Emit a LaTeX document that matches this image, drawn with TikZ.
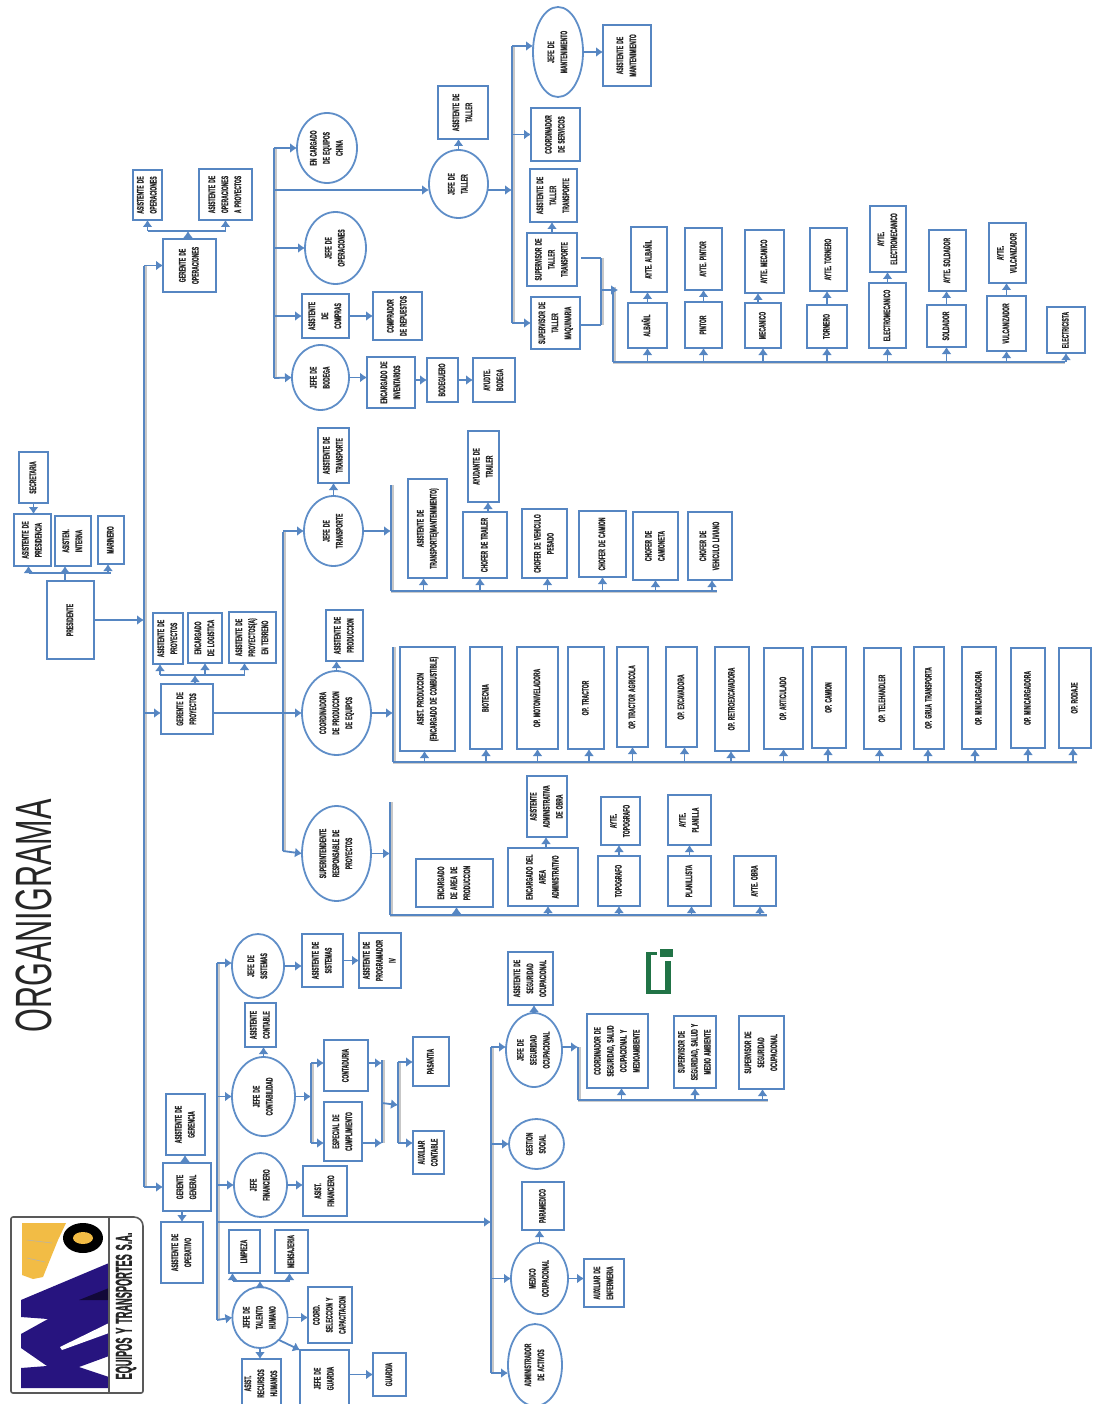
\documentclass[tikz,border=0pt]{standalone}
\usepackage{fontspec}
\usepackage{graphicx}
\setmainfont[BoldFeatures={FakeBold=1.6,WordSpace=1.5}]{Liberation Sans}
\usetikzlibrary{arrows.meta,shapes.geometric}
\definecolor{lc}{HTML}{5686C2}
\definecolor{ec}{HTML}{5F8EC8}
\definecolor{tc}{HTML}{262626}
\definecolor{grn}{HTML}{217346}
\definecolor{indg}{HTML}{27147F}
\definecolor{ylw}{HTML}{F2BC45}
\tikzset{
 boxn/.style={rectangle,draw=lc,line width=2pt,fill=white,inner sep=0pt,outer sep=0pt,text=tc,font=\fontsize{9.5}{13}\selectfont\bfseries},
 elln/.style={ellipse,draw=ec,line width=1.8pt,fill=white,inner sep=0pt,outer sep=0pt,text=tc,font=\fontsize{9.5}{13}\selectfont\bfseries},
 arr/.style={draw=lc,line width=1.8pt,-{Latex[length=7pt,width=10pt]}},
 lnk/.style={draw=lc,line width=1.8pt},
 hbus/.style={draw=lc,line width=2pt,preaction={draw=black!20,line width=1.5pt,transform canvas={yshift=-1.4pt}}},
 vbus/.style={draw=lc,line width=2.8pt,preaction={draw=black!22,line width=2.2pt,transform canvas={xshift=1.8pt}}}
}
\newcommand{\rtxt}[1]{\rotatebox{90}{\scalebox{.53}[1]{\begin{tabular}{@{}c@{}}#1\end{tabular}}}}
\newcommand{\bx}[6]{\node[boxn,minimum width={(#4-#2)*1pt},minimum height={(#5-#3)*1pt}] (#1) at ({(#2+#4)/2},{(#3+#5)/2}) {\rtxt{#6}};}
\newcommand{\el}[6]{\node[elln,minimum width={(#4-#2)*1pt},minimum height={(#5-#3)*1pt}] (#1) at ({(#2+#4)/2},{(#3+#5)/2}) {\rtxt{#6}};}
\begin{document}
\begin{tikzpicture}[x=1pt,y=-1pt]
\clip (0,0) rectangle (1094,1404);
\fill[white] (0,0) rectangle (1094,1404);

% title
\node[rotate=90,inner sep=0pt,text=black!85] (title) at (33.5,916) {\scalebox{.6}[1]{\fontsize{51}{51}\selectfont ORGANIGRAMA}};

% logo
\fill[white] (11,1217) rectangle (143,1393);
\fill[ylw] (22,1223) -- (66,1223) -- (58,1240) -- (43,1277) -- (33,1279) -- (22,1275) -- cycle;
\draw[black!30,line width=.5pt] (27,1240) -- (52,1243) (27,1258) -- (45,1262);
\fill[black] (83,1238) ellipse [x radius=20,y radius=15];
\fill[ylw] (83,1238) ellipse [x radius=10,y radius=6];
\fill[indg] (21,1388) -- (109,1388) -- (109,1377) -- (79,1367) -- (109,1356) -- (109,1263) -- (21,1300) -- (21,1317) -- (48,1319) -- (21,1334) -- (21,1348) -- (47,1366) -- (21,1368) -- cycle;
\fill[white] (60,1347) -- (109,1323) -- (109,1333) -- (62,1350) -- cycle;
\fill[black!55!indg] (79,1300) -- (109,1288) -- (109,1300) -- cycle;
\draw[black!65,line width=1.6pt,rounded corners=2pt] (11,1217) -- (132,1217) [rounded corners=9pt] -- (143,1217) [rounded corners=2pt] -- (143,1393) -- (11,1393) -- cycle;
\draw[black!65,line width=1.2pt] (109,1217) -- (109,1393);
\node[rotate=90,inner sep=0pt,text=black!85] (logotxt) at (126,1306) {\scalebox{.4}[1]{\fontsize{23}{23}\selectfont\bfseries EQUIPOS Y TRANSPORTES S.A.}};

% main buses
\coordinate (m1) at (144,266);
\coordinate (m2) at (144,1187);
\coordinate (p1) at (283,532);
\coordinate (p2) at (283,851);
\coordinate (g1) at (217,963);
\coordinate (g2) at (217,1320);
\coordinate (s1) at (491,1047);
\coordinate (s2) at (491,1373);
\coordinate (o1) at (274,148);
\coordinate (o2) at (274,378);
\coordinate (t1) at (512,46);
\coordinate (t2) at (512,323);
\draw[vbus] (m1) -- (m2);
\draw[vbus] (p1) -- (p2);
\draw[vbus] (g1) -- (g2);
\draw[vbus] (s1) -- (s2);
\draw[vbus] (o1) -- (o2);
\draw[vbus] (t1) -- (t2);

% presidency
\bx{secr}{19}{452}{48}{503}{SECRETARIA}
\bx{apres}{14}{514}{51}{566}{ASISTENTE DE\\PRESIDENCIA}
\bx{ainter}{55}{516}{91}{566}{ASISTEN.\\INTERNA}
\bx{mari}{98}{516}{124}{564}{MARINERO}
\bx{pres}{47}{581}{94}{659}{PRESIDENTE}
\coordinate (pb) at (65,573);
\draw[lnk] ([xshift=-4pt]apres.south |- pb) -- (mari.south |- pb);
\draw[arr] ([xshift=-4pt]apres.south |- pb) -- ([xshift=-4pt]apres.south);
\draw[arr] ([xshift=-8pt]ainter.south |- pres.north) -- ([xshift=-8pt]ainter.south);
\draw[arr] ([xshift=-3pt]mari.south |- pb) -- ([xshift=-3pt]mari.south);
\draw[arr] (secr.south) -- (secr.south |- apres.north);
\draw[arr] (pres.east) -- (m1 |- pres.east);

% operations
\bx{gop}{163}{239}{216}{292}{GERENTE DE\\OPERACIONES}
\bx{aop}{133}{170}{162}{220}{ASISTENTE DE\\OPERACIONES}
\bx{aopp}{199}{169}{252}{220}{ASISTENTE DE\\OPERACIONES\\A PROYECTOS}
\coordinate (gb) at (188,231);
\draw[lnk] (aop.south |- gb) -- (aopp.south |- gb);
\draw[arr] (aop.south |- gb) -- (aop.south);
\draw[arr] (aopp.south |- gb) -- (aopp.south);
\draw[arr] ([xshift=-1.5pt]gop.north) -- ([xshift=-1.5pt]gop.north |- gb);
\draw[arr] (m1 |- gop.west) -- (gop.west);

% projects
\bx{gpr}{161}{684}{213}{734}{GERENTE DE\\PROYECTOS}
\bx{apr}{153}{613}{183}{664}{ASISTENTE DE\\PROYECTOS}
\bx{elog}{188}{613}{222}{663}{ENCARGADO\\DE LOGISTICA}
\bx{aprt}{229}{612}{276}{663}{ASISTENTE DE\\PROYECTOS(A)\\EN TERRENO}
\coordinate (prb) at (195,675);
\draw[lnk] ([xshift=-8pt]apr.south |- prb) -- ([xshift=-8pt]aprt.south |- prb);
\draw[arr] ([xshift=-8pt]apr.south |- prb) -- ([xshift=-8pt]apr.south);
\draw[arr] (elog.south |- prb) -- (elog.south);
\draw[arr] ([xshift=-8pt]aprt.south |- prb) -- ([xshift=-8pt]aprt.south);
\draw[arr] (gpr.north -| prb) -- (prb);

% transport
\el{jtr}{304}{496}{363}{566}{JEFE DE\\TRANSPORTE}
\bx{atr}{318}{428}{349}{483}{ASISTENTE DE\\TRANSPORTE}
\coordinate (trv1) at (391,485);
\coordinate (trv2) at (391,591);
\coordinate (trh) at (717,591);
\draw[vbus] (trv1) -- (trv2);
\draw[hbus] (trv2) -- (trh);
\bx{atm}{408}{479}{447}{578}{ASISTENTE DE\\TRANSPORTE(MANTENIMIENTO)}
\bx{ctr}{463}{512}{507}{578}{CHOFER DE TRAILER}
\bx{aytr}{468}{431}{499}{502}{AYUDANTE DE\\TRAILER}
\bx{cvp}{522}{509}{567}{578}{CHOFER DE VEHICULO\\PESADO}
\bx{ccm}{579}{511}{626}{577}{CHOFER DE CAMION}
\bx{cct}{633}{512}{678}{580}{CHOFER DE\\CAMIONETA}
\bx{cvl}{688}{512}{732}{580}{CHOFER DE\\VEHICULO LIVIANO}
\foreach \n/\d in {atm/-4,ctr/-5,cvp/3,ccm/0,cct/0,cvl/2}
  \draw[arr] ([xshift=\d pt]\n.south |- trv2) -- ([xshift=\d pt]\n.south);
\draw[arr] ([xshift=3pt]ctr.north) -- ([xshift=3pt]ctr.north |- aytr.south);
\draw[arr] (p1 |- jtr.west) -- (jtr.west);
\draw[arr] (jtr.north) -- (jtr.north |- atr.south);
\draw[arr] (jtr.east) -- (trv1 |- jtr.east);

% production
\el{cpr}{302}{671}{371}{755}{COORDINADORA\\DE PRODUCCION\\DE EQUIPOS}
\bx{apd}{326}{610}{363}{661}{ASISTENTE DE\\PRODUCCION}
\coordinate (prv1) at (393,647);
\coordinate (prv2) at (393,762);
\coordinate (prh) at (1077,762);
\draw[vbus] (prv1) -- (prv2);
\draw[hbus] (prv2) -- (prh);
\bx{asp}{400}{647}{455}{751}{ASIST. PRODUCCION\\(ENCARGADO DE COMBUSTIBLE)}
\bx{bio}{470}{647}{502}{749}{BIOTECNIA}
\bx{omn}{517}{647}{558}{749}{OP. MOTONIVELADORA}
\bx{otr}{568}{647}{604}{749}{OP. TRACTOR}
\bx{ota}{617}{647}{648}{747}{OP. TRACTOR AGRICOLA}
\bx{oex}{666}{647}{697}{747}{OP. EXCAVADORA}
\bx{ore}{715}{647}{749}{751}{OP. RETROEXCAVADORA}
\bx{oar}{764}{648}{803}{749}{OP. ARTICULADO}
\bx{oca}{812}{647}{846}{748}{OP. CAMION}
\bx{ote}{864}{648}{901}{749}{OP. TELEHANDLER}
\bx{ogr}{914}{647}{944}{749}{OP. GRUA TRANSPORTA}
\bx{omi}{962}{647}{996}{749}{OP. MINICARGADORA}
\bx{ome}{1011}{648}{1045}{748}{OP. MINICARGADORA}
\bx{oro}{1059}{648}{1091}{748}{OP. RODAJE}
\foreach \n/\d in {asp/-3,bio/0,omn/0,otr/3,ota/0,oex/3,ore/-1,oar/0,oca/-1,ote/-3,ogr/-1,omi/-4,ome/0,oro/-2}
  \draw[arr] ([xshift=\d pt]\n.south |- prv2) -- ([xshift=\d pt]\n.south);
\draw[arr] (m1 |- cpr.west) -- (gpr.west |- cpr.west);
\draw[arr] (gpr.east |- cpr.west) -- (cpr.west);
\draw[arr] (cpr.north) -- (cpr.north |- apd.south);
\draw[arr] (cpr.east) -- (prv1 |- cpr.east);

% superintendent
\el{sup}{302}{806}{371}{901}{SUPERINTENDENTE\\RESPONSABLE DE\\PROYECTOS}
\coordinate (suv1) at (390,802);
\coordinate (suv2) at (390,915);
\coordinate (suh) at (767,915);
\draw[vbus] (suv1) -- (suv2);
\draw[hbus] (suv2) -- (suh);
\bx{eap}{416}{859}{493}{907}{ENCARGADO\\DE AREA DE\\PRODUCCION}
\bx{ead}{508}{848}{578}{906}{ENCARGADO DEL\\AREA\\ADMINISTRATIVO}
\bx{aad}{527}{776}{567}{837}{ASISTENTE\\ADMINISTRATIVA\\DE OBRA}
\bx{top}{598}{856}{640}{906}{TOPOGRAFO}
\bx{atp}{601}{797}{640}{845}{AYTE.\\TOPOGRAFO}
\bx{pla}{668}{856}{711}{906}{PLANILLISTA}
\bx{apl}{668}{795}{711}{845}{AYTE.\\PLANILLA}
\bx{aob}{734}{856}{776}{906}{AYTE. OBRA}
\foreach \n/\d in {eap/2,ead/5,top/0,pla/2,aob/5}
  \draw[arr] ([xshift=\d pt]\n.south |- suv2) -- ([xshift=\d pt]\n.south);
\draw[arr] ([xshift=3pt]ead.north) -- ([xshift=3pt]ead.north |- aad.south);
\draw[arr] (top.north) -- (top.north |- atp.south);
\draw[arr] (pla.north) -- (pla.north |- apl.south);
\draw[arr] (p2) -- (sup.west);
\draw[arr] (sup.east) -- (suv1 |- sup.east);

% green mark
\fill[grn] (646,952) rectangle (651,994);
\fill[grn] (646,990) rectangle (671,994);
\fill[grn] (665,961) rectangle (671,994);
\fill[grn] (646,952) rectangle (657,955);
\fill[grn] (660,949) rectangle (673,957);

% general management
\bx{ggn}{163}{1163}{211}{1211}{GERENTE\\GENERAL}
\bx{agn}{166}{1094}{205}{1155}{ASISTENTE DE\\GERENCIA}
\bx{aop2}{161}{1222}{203}{1283}{ASISTENTE DE\\OPERATIVO}
\draw[arr] (m2) -- (ggn.west);
\draw[arr] ([xshift=-2pt]ggn.north) -- ([xshift=-2pt]ggn.north |- agn.south);
\draw[arr] ([xshift=-5pt]ggn.south) -- ([xshift=-5pt]ggn.south |- aop2.north);
\coordinate (gs) at (217,1222);
\draw[lnk,-{Latex[length=7pt,width=10pt]}] (gs) -- (s1 |- gs);

% systems
\el{jsi}{232}{934}{284}{998}{JEFE DE\\SISTEMAS}
\bx{asi}{302}{934}{343}{987}{ASISTENTE DE\\SISTEMAS}
\bx{apg}{359}{933}{401}{988}{ASISTENTE DE\\PROGRAMADOR\\IV}
\draw[arr] (g1) -- (jsi.west |- g1);
\draw[arr] (jsi.east) -- (asi.west |- jsi.east);
\draw[arr] (asi.east) -- (apg.west);

% accounting
\el{jco}{232}{1057}{295}{1136}{JEFE DE\\CONTABILIDAD}
\bx{aco}{245}{1003}{276}{1047}{ASISTENTE\\CONTABLE}
\bx{ctd}{324}{1040}{368}{1091}{CONTADURIA}
\bx{ecu}{324}{1102}{362}{1161}{ESPECIAL DE\\CUMPLIMIENTO}
\bx{pas}{413}{1037}{449}{1086}{PASANTIA}
\bx{aux}{413}{1131}{444}{1174}{AUXILIAR\\CONTABLE}
\coordinate (c1t) at (311,1063);
\coordinate (c1b) at (311,1143);
\coordinate (c2t) at (382,1060);
\coordinate (c2b) at (382,1143);
\coordinate (c3t) at (398,1062);
\coordinate (c3b) at (398,1143);
\draw[vbus] (c1t) -- (c1b);
\draw[vbus] (c2t) -- (c2b);
\draw[vbus] (c3t) -- (c3b);
\draw[arr] (g1 |- jco.west) -- (jco.west);
\draw[arr] (jco.north) -- (jco.north |- aco.south);
\draw[arr] (jco.east) -- (c1t |- jco.east);
\draw[arr] (c1t) -- (ctd.west |- c1t);
\draw[arr] (c1b) -- (ecu.west |- c1b);
\draw[arr] (ctd.east |- c1t) -- (c2t |- c1t);
\draw[arr] (ecu.east |- c1b) -- (c2b);
\draw[arr] ([yshift=-43pt]c2t) -- ([yshift=-43pt]c3t);
\draw[arr] (c3t) -- (pas.west |- c3t);
\draw[arr] (c3b) -- (aux.west |- c3b);

% finance
\el{jfi}{234}{1153}{287}{1217}{JEFE\\FINANCIERO}
\bx{afi}{303}{1166}{347}{1216}{ASIST.\\FINANCIERO}
\draw[arr] (g1 |- jfi.west) -- (jfi.west);
\draw[arr] (jfi.east) -- (afi.west |- jfi.east);

% human resources
\el{jth}{234}{1287}{286}{1348}{JEFE DE\\TALENTO\\HUMANO}
\bx{lim}{229}{1230}{260}{1273}{LIMPIEZA}
\bx{men}{275}{1230}{308}{1273}{MENSAJERIA}
\bx{sel}{308}{1287}{352}{1343}{COORD.\\SELECCION Y\\CAPACITACION}
\bx{arh}{242}{1359}{281}{1408}{ASIST.\\RECURSOS\\HUMANOS}
\bx{jgu}{300}{1350}{349}{1407}{JEFE DE\\GUARDIA}
\bx{gua}{373}{1353}{406}{1396}{GUARDIA}
\coordinate (hb) at (260,1281);
\draw[lnk] ([xshift=-12pt]lim.south |- hb) -- ([xshift=-2pt]men.south |- hb);
\draw[arr] ([xshift=-12pt]lim.south |- hb) -- ([xshift=-12pt]lim.south);
\draw[arr] ([xshift=-2pt]men.south |- hb) -- ([xshift=-2pt]men.south);
\draw[arr] (jth.north) -- (jth.north |- hb);
\draw[arr] (g2) -- (jth.west);
\draw[arr] (jth.east) -- (sel.west |- jth.east);
\draw[arr] (jth.south) -- (jth.south |- arh.north);
\draw[arr] (jth.-50) -- (jgu.north west);
\draw[arr] (jgu.east |- gua.west) -- (gua.west);

% safety
\el{jsg}{506}{1013}{562}{1087}{JEFE DE\\SEGURIDAD\\OCUPACIONAL}
\bx{asg}{508}{952}{553}{1005}{ASISTENTE DE\\SEGURIDAD\\OCUPACIONAL}
\bx{csg}{587}{1014}{648}{1088}{COORDINADOR DE\\SEGURIDAD, SALUD\\OCUPACIONAL Y\\MEDIOAMBIENTE}
\bx{ssg}{674}{1016}{716}{1088}{SUPERVISOR DE\\SEGURIDAD, SALUD Y\\MEDIO AMBIENTE}
\bx{sso}{739}{1016}{784}{1089}{SUPERVISOR DE\\SEGURIDAD\\OCUPACIONAL}
\coordinate (sgv1) at (578,1047);
\coordinate (sgv2) at (578,1100);
\coordinate (sgh) at (768,1100);
\draw[vbus] (sgv1) -- (sgv2);
\draw[hbus] (sgv2) -- (sgh);
\foreach \n/\d in {csg/4,ssg/0,sso/1}
  \draw[arr] ([xshift=\d pt]\n.south |- sgv2) -- ([xshift=\d pt]\n.south);
\draw[arr] (s1) -- (jsg.west |- s1);
\draw[arr] (jsg.north) -- (jsg.north |- asg.south);
\draw[arr] (jsg.east |- sgv1) -- (sgv1);

% social / medical / assets
\el{gso}{509}{1119}{564}{1169}{GESTION\\SOCIAL}
\draw[arr] (s1 |- gso.west) -- (gso.west);
\bx{par}{522}{1182}{564}{1230}{PARAMEDICO}
\el{mdo}{511}{1243}{568}{1314}{MEDICO\\OCUPACIONAL}
\bx{aen}{584}{1259}{624}{1307}{AUXILIAR DE\\ENFERMERIA}
\draw[arr] (s1 |- mdo.west) -- (mdo.west);
\draw[arr] (mdo.east) -- (aen.west |- mdo.east);
\draw[arr] (mdo.north) -- (mdo.north |- par.south);
\el{adm}{508}{1324}{562}{1406}{ADMINISTRADOR\\DE ACTIVOS}
\draw[arr] (s2) -- (adm.west |- s2);

% upper branch
\el{ech}{297}{113}{357}{183}{EN CARGADO\\DE EQUIPOS\\CHINA}
\el{jta}{429}{150}{488}{218}{JEFE DE\\TALLER}
\bx{ata}{438}{86}{488}{139}{ASISTENTE DE\\TALLER}
\el{jop}{305}{212}{366}{284}{JEFE DE\\OPERACIONES}
\bx{acp}{302}{294}{349}{338}{ASISTENTE\\DE\\COMPRAS}
\bx{crp}{373}{292}{422}{340}{COMPRADOR\\DE REPUESTOS}
\el{jbo}{292}{345}{349}{410}{JEFE DE\\BODEGA}
\bx{ein}{367}{357}{415}{408}{ENCARGADO DE\\INVENTARIOS}
\bx{bod}{427}{358}{458}{402}{BODEGUERO}
\bx{ayb}{473}{358}{515}{402}{AYUDTE.\\BODEGA}
\draw[arr] (o1 |- ech.west) -- (ech.west);
\draw[arr] ([yshift=-6pt]o1 |- jta.west) -- ([yshift=-6pt]jta.west);
\draw[arr] (o1 |- jop.west) -- (jop.west);
\draw[arr] (o1 |- acp.west) -- (acp.west);
\draw[arr] (acp.east) -- (crp.west);
\draw[arr] (o2) -- (jbo.west);
\draw[arr] (jbo.east) -- (ein.west |- jbo.east);
\draw[arr] (ein.east |- bod.west) -- (bod.west);
\draw[arr] (bod.east) -- (ayb.west);
\draw[arr] (jta.north) -- (jta.north |- ata.south);
\draw[arr] ([yshift=-6pt]jta.east) -- ([yshift=-6pt]t1 |- jta.east);

% workshop
\el{jma}{533}{7}{583}{97}{JEFE DE\\MANTENIMIENTO}
\bx{ama}{603}{25}{651}{86}{ASISTENTE DE\\MANTENIMIENTO}
\bx{cse}{531}{108}{580}{161}{COORDINADOR\\DE SERVICIOS}
\bx{ats}{530}{169}{577}{222}{ASISTENTE DE\\TALLER\\TRANSPORTE}
\bx{stt}{527}{233}{577}{286}{SUPERVISOR DE\\TALLER\\TRANSPORTE}
\bx{stm}{531}{297}{580}{349}{SUPERVISOR DE\\TALLER\\MAQUINARIA}
\draw[arr] (t1) -- (jma.west |- t1);
\draw[arr] (jma.east) -- (ama.west |- jma.east);
\draw[arr] (t1 |- cse.west) -- (cse.west);
\draw[arr] (t2) -- (stm.west);
\draw[arr] (stt.north) -- (stt.north |- ats.south);
\coordinate (wv1) at (601,258);
\coordinate (wv2) at (601,325);
\coordinate (wx) at (601,290);
\coordinate (wy1) at (613,287);
\coordinate (wy2) at (613,362);
\coordinate (wh) at (1065,362);
\draw[lnk] ([xshift=4pt]stt.east |- wv1) -- (wv1);
\draw[lnk] (stm.east |- wv2) -- (wv2);
\draw[vbus] (wv1) -- (wv2);
\draw[vbus] (wy1) -- (wy2);
\draw[hbus] (wy2) -- (wh);
\draw[arr] (wx) -- ([xshift=17pt]wx);
\bx{uab}{631}{227}{667}{292}{AYTE. ALBAÑIL}
\bx{lab}{628}{303}{667}{348}{ALBAÑIL}
\bx{upi}{685}{228}{722}{290}{AYTE. PINTOR}
\bx{lpi}{685}{302}{722}{348}{PINTOR}
\bx{ume}{745}{230}{784}{293}{AYTE. MECANICO}
\bx{lme}{745}{303}{781}{348}{MECANICO}
\bx{uto}{810}{228}{847}{291}{AYTE. TORNERO}
\bx{lto}{807}{305}{847}{348}{TORNERO}
\bx{uel}{870}{206}{906}{272}{AYTE.\\ELECTROMECANICO}
\bx{lel}{869}{283}{906}{348}{ELECTROMECANICO}
\bx{uso}{929}{230}{966}{291}{AYTE. SOLDADOR}
\bx{lso}{927}{305}{966}{347}{SOLDADOR}
\bx{uvu}{989}{223}{1026}{283}{AYTE.\\VULCANIZADOR}
\bx{lvu}{987}{296}{1026}{351}{VULCANIZADOR}
\bx{lec}{1047}{307}{1085}{353}{ELECTRICISTA}
\foreach \l/\u in {lab/uab,lpi/upi,lto/uto,lel/uel,lso/uso,lvu/uvu}
  \draw[arr] (\l.north) -- (\l.north |- \u.south);
\draw[arr] ([xshift=-5pt]lme.north) -- ([xshift=-5pt]lme.north |- ume.south);
\foreach \n in {lab,lpi,lme,lto,lel,lso,lvu}
  \draw[arr] (\n.south |- wy2) -- (\n.south);
\draw[arr] (lec.south |- wy2) -- (lec.south);
\end{tikzpicture}
\end{document}
